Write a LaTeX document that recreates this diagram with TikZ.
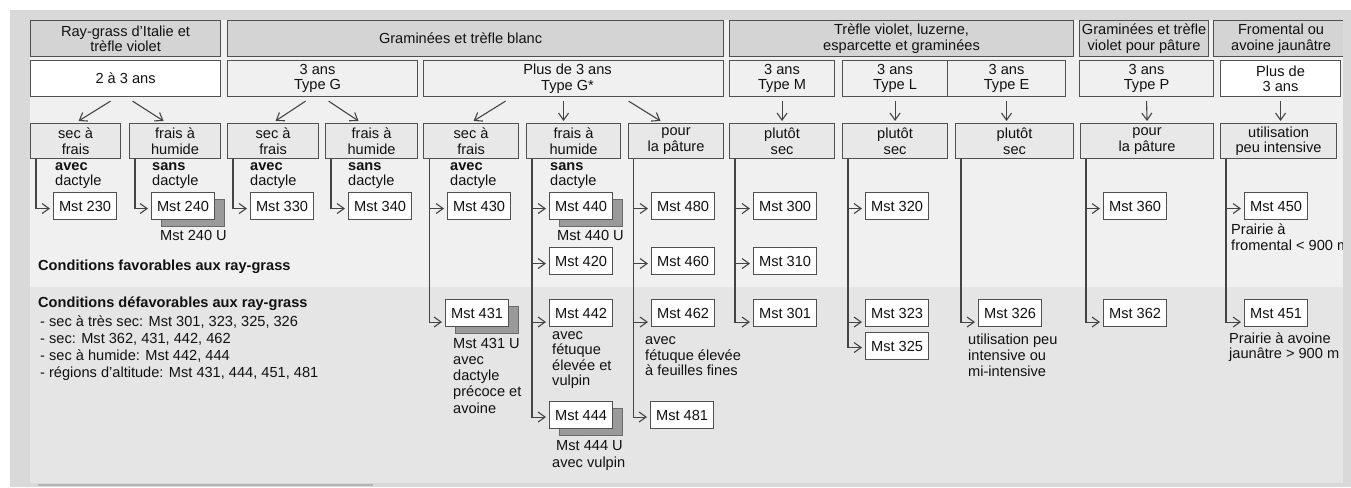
\documentclass[tikz,border=0pt]{standalone}
\usepackage{fontspec}
\setmainfont{Liberation Sans}
\usetikzlibrary{arrows.meta,shadows,calc}
\definecolor{outerc}{HTML}{D9D9D9}
\definecolor{panelc}{HTML}{F0F0F0}
\definecolor{lowerc}{HTML}{E5E5E5}
\definecolor{hdrfill}{HTML}{D4D4D4}
\definecolor{rowfill}{HTML}{F0F0F0}
\definecolor{condfill}{HTML}{E8E8E8}
\definecolor{bord}{HTML}{505050}
\definecolor{shadfill}{HTML}{9A9A9A}
\definecolor{shadbord}{HTML}{6A6A6A}
\definecolor{txt}{HTML}{111111}
\definecolor{connc}{HTML}{444444}
\definecolor{barc}{HTML}{B4B4B4}
\newcommand\myfs{\fontsize{14.6}{15.5}\selectfont}
\begin{document}
\begin{tikzpicture}[x=1pt,y=-1pt,
  every node/.style={text=txt},
  box/.style={draw=bord, line width=1.1pt, inner sep=0pt, align=center, font=\myfs, anchor=north west},
  hdr/.style={box, fill=hdrfill, minimum height=36pt},
  yr/.style={box, fill=rowfill, minimum height=36pt},
  cond/.style={box, fill=condfill, minimum height=35pt},
  mst/.style={box, fill=white, minimum width=63pt, minimum height=27pt},
  shad/.style={drop shadow={shadow xshift=10pt, shadow yshift=-7pt, fill=shadfill, draw=shadbord, opacity=1}},
  note/.style={inner sep=0pt, align=left, anchor=west, font=\fontsize{14.6}{#1}\selectfont},
  note/.default=15.5,
  arr/.style={draw=connc, line width=1.1pt, -{Straight Barb[length=7pt,width=10pt]}},
  link/.style={arr, shorten >=3pt},
]
\useasboundingbox (0,0) rectangle (1351,487);
% backgrounds
\fill[outerc] (10,10) rectangle (1351,487);
\fill[panelc] (30,20) rectangle (1343,483);
\fill[lowerc] (30,287) rectangle (1343,483);

% row 1 headers
\node[hdr, minimum width=190pt] (h1) at (30,20) {Ray-grass d'Italie et\\trèfle violet};
\node[hdr, minimum width=496pt, label={[name=h2t, font=\myfs, xshift=-15pt]center:Graminées et trèfle blanc}] (h2) at (227,20) {};
\node[hdr, minimum width=344pt] (h3) at (729,20) {Trèfle violet, luzerne,\\esparcette et graminées};
\node[hdr, minimum width=129pt] (h4) at (1079,20) {Graminées et trèfle\\violet pour pâture};
\node[hdr, minimum width=135pt] (h5) at (1213,20) {Fromental ou\\avoine jaunâtre};

% row 2
\node[yr, fill=white, minimum width=190pt] (r2a) at (30,60) {2 à 3 ans};
\node[yr, minimum width=190pt, label={[name=r2bt, font=\myfs, align=center, xshift=-5pt]center:3 ans\\Type G}] (r2b) at (227,60) {};
\node[yr, minimum width=300pt, label={[name=r2ct, font=\myfs, align=center, xshift=-6pt]center:Plus de 3 ans\\Type G*}] (r2c) at (423,60) {};
\node[yr, minimum width=105pt] (r2d) at (729,60) {3 ans\\Type M};
\node[yr, minimum width=105pt] (r2e) at (842,60) {3 ans\\Type L};
\node[yr, minimum width=118pt] (r2f) at (947,60) {3 ans\\Type E};
\node[yr, minimum width=134pt] (r2g) at (1079,60) {3 ans\\Type P};
\node[yr, fill=white, minimum width=120pt] (r2h) at (1220,60) {Plus de\\3 ans};

% row 3
\node[cond, minimum width=90pt] (sA) at (30,123) {sec à\\frais};
\node[cond, minimum width=91pt] (sB) at (129,123) {frais à\\humide};
\node[cond, minimum width=91pt] (sC) at (227,123) {sec à\\frais};
\node[cond, minimum width=92pt] (sD) at (325,123) {frais à\\humide};
\node[cond, minimum width=95pt] (sE) at (423,123) {sec à\\frais};
\node[cond, minimum width=94pt] (sF) at (526,123) {frais à\\humide};
\node[cond, minimum width=95pt] (sG) at (628,123) {pour\\la pâture};
\node[cond, minimum width=105pt] (sH) at (729,123) {plutôt\\sec};
\node[cond, minimum width=105pt] (sI) at (842,123) {plutôt\\sec};
\node[cond, minimum width=118pt] (sJ) at (955,123) {plutôt\\sec};
\node[cond, minimum width=133pt] (sK) at (1080,123) {pour\\la pâture};
\node[cond, minimum width=116pt] (sL) at (1220,123) {utilisation\\peu intensive};

% arrows row 2 -> row 3
\draw[arr] ([xshift=-15pt,yshift=-4pt]r2a.south) -- ([xshift=3pt,yshift=2pt]sA.north);
\draw[arr] ([xshift=7pt,yshift=-4pt]r2a.south) -- ([xshift=-11.5pt,yshift=2pt]sB.north);
\draw[arr] ([xshift=-17pt,yshift=-4pt]r2b.south) -- ([xshift=2.5pt,yshift=2pt]sC.north);
\draw[arr] ([xshift=6pt,yshift=-4pt]r2b.south) -- ([xshift=-13pt,yshift=2pt]sD.north);
\draw[arr] ([xshift=-68pt,yshift=-4pt]r2c.south) -- ([xshift=2.5pt,yshift=2pt]sE.north);
\draw[arr] ([xshift=-10pt,yshift=-4pt]r2c.south) -- ([xshift=-10pt,yshift=2pt]sF.north);
\draw[arr] ([xshift=55pt,yshift=-4pt]r2c.south) -- ([xshift=-15.5pt,yshift=2pt]sG.north);
\draw[arr] ([yshift=-4pt]r2d.south) -- ([yshift=2pt]sH.north);
\draw[arr] ([yshift=-4pt]r2e.south) -- ([yshift=2pt]sI.north);
\draw[arr] ([yshift=-4pt]r2f.south) -- ($(r2f.south |- sJ.north)+(0,-2)$);
\draw[arr] ([yshift=-4pt]r2g.south) -- ([yshift=2pt]sK.north);
\draw[arr] ([yshift=-4pt]r2h.south) -- ($(r2h.south |- sL.north)+(0,-2)$);

% Mst boxes
\node[mst] (m230) at (53,192) {Mst 230};
\node[mst, shad] (m240) at (151,192) {Mst 240};
\node[mst] (m330) at (250,192) {Mst 330};
\node[mst] (m340) at (348,192) {Mst 340};
\node[mst] (m430) at (447,192) {Mst 430};
\node[mst, shad] (m431) at (445,299) {Mst 431};
\node[mst, shad] (m440) at (549,192) {Mst 440};
\node[mst] (m420) at (549,247) {Mst 420};
\node[mst] (m442) at (549,299) {Mst 442};
\node[mst, shad] (m444) at (549,401) {Mst 444};
\node[mst] (m480) at (651,192) {Mst 480};
\node[mst] (m460) at (651,247) {Mst 460};
\node[mst] (m462) at (651,299) {Mst 462};
\node[mst] (m481) at (650,401) {Mst 481};
\node[mst] (m300) at (753,192) {Mst 300};
\node[mst] (m310) at (753,247) {Mst 310};
\node[mst] (m301) at (753,299) {Mst 301};
\node[mst] (m320) at (865,192) {Mst 320};
\node[mst] (m323) at (865,299) {Mst 323};
\node[mst] (m325) at (865,332) {Mst 325};
\node[mst] (m326) at (978,299) {Mst 326};
\node[mst] (m360) at (1103,192) {Mst 360};
\node[mst] (m362) at (1103,299) {Mst 362};
\node[mst] (m450) at (1244,192) {Mst 450};
\node[mst] (m451) at (1244,299) {Mst 451};

% links
\draw[link] ([xshift=6pt]sA.south west) |- ([yshift=-2.5pt]m230.west);
\draw[link] ([xshift=6pt]sB.south west) |- ([yshift=-2.5pt]m240.west);
\draw[link] ([xshift=6pt]sC.south west) |- ([yshift=-2.5pt]m330.west);
\draw[link] ([xshift=6pt]sD.south west) |- ([yshift=-2.5pt]m340.west);
\draw[link] ([xshift=6.5pt]sE.south west) |- ([yshift=-2.5pt]m430.west);
\draw[link] ([xshift=6.5pt]sE.south west) |- ([yshift=-9pt]m431.west);
\draw[link] ([xshift=6pt]sF.south west) |- ([yshift=-2.5pt]m440.west);
\draw[link] ([xshift=6pt]sF.south west) |- ([yshift=-2.5pt]m420.west);
\draw[link] ([xshift=6pt]sF.south west) |- ([yshift=-9pt]m442.west);
\draw[link] ([xshift=6pt]sF.south west) |- ([yshift=-2pt]m444.west);
\draw[link] ([xshift=5.5pt]sG.south west) |- ([yshift=-2.5pt]m480.west);
\draw[link] ([xshift=5.5pt]sG.south west) |- ([yshift=-2.5pt]m460.west);
\draw[link] ([xshift=5.5pt]sG.south west) |- ([yshift=-9pt]m462.west);
\draw[link] ([xshift=5.5pt]sG.south west) |- ([yshift=-2pt]m481.west);
\draw[link] ([xshift=6pt]sH.south west) |- ([yshift=-2.5pt]m300.west);
\draw[link] ([xshift=6pt]sH.south west) |- ([yshift=-2.5pt]m310.west);
\draw[link] ([xshift=6pt]sH.south west) |- ([yshift=-9pt]m301.west);
\draw[link] ([xshift=6pt]sI.south west) |- ([yshift=-2.5pt]m320.west);
\draw[link] ([xshift=6pt]sI.south west) |- ([yshift=-9pt]m323.west);
\draw[link] ([xshift=6pt]sI.south west) |- ([yshift=-1.5pt]m325.west);
\draw[link] ([xshift=6pt]sJ.south west) |- ([yshift=-9pt]m326.west);
\draw[link] ([xshift=6pt]sK.south west) |- ([yshift=-2.5pt]m360.west);
\draw[link] ([xshift=6pt]sK.south west) |- ([yshift=-9pt]m362.west);
\draw[link] ([xshift=6pt]sL.south west) |- ([yshift=-2.5pt]m450.west);
\draw[link] ([xshift=6pt]sL.south west) |- ([yshift=-9pt]m451.west);

% texts
\node[note=15] (tA) at (55,175.5) {\textbf{avec}\\dactyle};
\node[note=15] (tB) at (152,175.5) {\textbf{sans}\\dactyle};
\node[note=15] (tC) at (250,175.5) {\textbf{avec}\\dactyle};
\node[note=15] (tD) at (348,175.5) {\textbf{sans}\\dactyle};
\node[note=15] (tE) at (450,175.5) {\textbf{avec}\\dactyle};
\node[note=15] (tF) at (550,175.5) {\textbf{sans}\\dactyle};
\node[note] (u240) at (160,235) {Mst 240 U};
\node[note] (u440) at (557,235) {Mst 440 U};
\node[note=16.25] (u431) at (453,375.5) {Mst 431 U\\avec\\dactyle\\précoce et\\avoine};
\node[note=15.33] (t442) at (552,360) {avec\\fétuque\\élevée et\\vulpin};
\node[note] (u444) at (556,446) {Mst 444 U};
\node[note] (t444) at (552,464) {avec vulpin};
\node[note=15.5] (t462) at (645,356.5) {avec\\fétuque élevée\\à feuilles fines};
\node[note=16] (t326) at (968,355) {utilisation peu\\intensive ou\\mi-intensive};
\node[note=16] (t450) at (1231,237) {Prairie à\\fromental < 900 m};
\node[note=15] (t451) at (1229,347.5) {Prairie à avoine\\jaunâtre > 900 m};
\node[note] (fav) at (38,267) {\textbf{Conditions favorables aux ray-grass}};
\node[note] (defav) at (38,304) {\textbf{Conditions défavorables aux ray-grass}};
\node[note=17] (list) at (40,348) {- sec à très sec: Mst 301, 323, 325, 326\\- sec: Mst 362, 431, 442, 462\\- sec à humide: Mst 442, 444\\- régions d'altitude: Mst 431, 444, 451, 481};

% overlay frame strips
\fill[outerc] (1343,10) rectangle (1351,487);
\fill[outerc] (10,483) rectangle (1351,487);
\draw[barc, line width=2pt] (38,485) -- (373,485);
\end{tikzpicture}
\end{document}
